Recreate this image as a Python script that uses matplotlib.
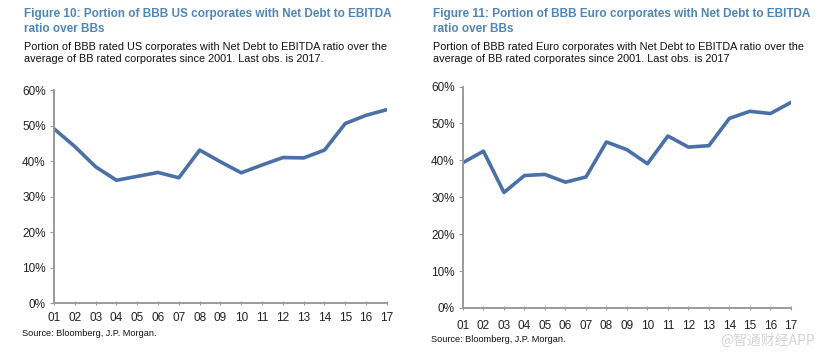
import matplotlib
matplotlib.use("Agg")
import matplotlib.pyplot as plt

years = ["01", "02", "03", "04", "05", "06", "07", "08", "09",
         "10", "11", "12", "13", "14", "15", "16", "17"]
us_share = [49.1, 44.1, 38.4, 34.6, 35.7, 36.8, 35.3, 43.1, 39.8,
            36.7, 38.9, 41.0, 40.9, 43.1, 50.6, 52.9, 54.5]
euro_share = [39.4, 42.5, 31.3, 35.9, 36.2, 34.1, 35.5, 45.0, 42.9,
              39.1, 46.6, 43.6, 44.0, 51.4, 53.3, 52.7, 55.7]
yticks = [0, 10, 20, 30, 40, 50, 60]

plt.rcParams['font.family'] = ['Liberation Sans', 'DejaVu Sans']

title_col = "#4F86B9"
line_col = "#4A70A5"
spine_col = "#9A9A9A"

fig = plt.figure(figsize=(8.26, 3.52), dpi=100)

panels = [
    dict(rect=[0.0654, 0.139, 0.403, 0.605], data=us_share, tx=24, pad=5,
         title="Figure 10: Portion of BBB US corporates with Net Debt to EBITDA\nratio over BBs",
         sub="Portion of BBB rated US corporates with Net Debt to EBITDA ratio over the\naverage of BB rated corporates since 2001. Last obs. is 2017.",
         src_y=333),
    dict(rect=[0.5605, 0.125, 0.397, 0.629], data=euro_share, tx=433, pad=7,
         title="Figure 11: Portion of BBB Euro corporates with Net Debt to EBITDA\nratio over BBs",
         sub="Portion of BBB rated Euro corporates with Net Debt to EBITDA ratio over the\naverage of BB rated corporates since 2001. Last obs. is 2017",
         src_y=340),
]

for p in panels:
    ax = fig.add_axes(p["rect"])
    x = list(range(len(years)))
    ax.plot(x, p["data"], color=line_col, lw=2.6, solid_capstyle="round",
            solid_joinstyle="round")
    ax.set_xlim(0, len(years) - 1)
    ax.set_ylim(0, 60)
    ax.set_yticks(yticks)
    ax.set_yticklabels([f"{v}%" for v in yticks])
    ax.set_xticks(x)
    ax.set_xticklabels(years)
    for s in ["top", "right"]:
        ax.spines[s].set_visible(False)
    for s in ["left", "bottom"]:
        ax.spines[s].set_color(spine_col)
        ax.spines[s].set_linewidth(1.4)
    ax.tick_params(axis="y", length=3, color=spine_col, labelsize=8.5,
                   labelcolor="#222222", pad=3)
    ax.tick_params(axis="x", length=3, direction="inout", color=spine_col,
                   labelsize=8.5, labelcolor="#222222", pad=p["pad"])

    fig.text(p["tx"] / 826, 1 - 8 / 352, p["title"], color=title_col,
             fontsize=8.5, fontweight="bold", va="top", ha="left",
             linespacing=1.35)
    fig.text(p["tx"] / 826, 1 - 42 / 352, p["sub"], color="#111111",
             fontsize=7.8, va="top", ha="left", linespacing=1.3)
    fig.text((p["tx"] - 2) / 826, 1 - p["src_y"] / 352,
             "Source: Bloomberg, J.P. Morgan.", color="#111111",
             fontsize=6.6, va="center", ha="left")

fig.text(0.987, 1 - 341 / 352, "@智通财经APP", color="#D4D4D4", fontsize=10,
         ha="right", va="center",
         family=["Noto Sans CJK SC", "DejaVu Sans"])

fig.savefig("out.png", dpi=100, facecolor="white")
